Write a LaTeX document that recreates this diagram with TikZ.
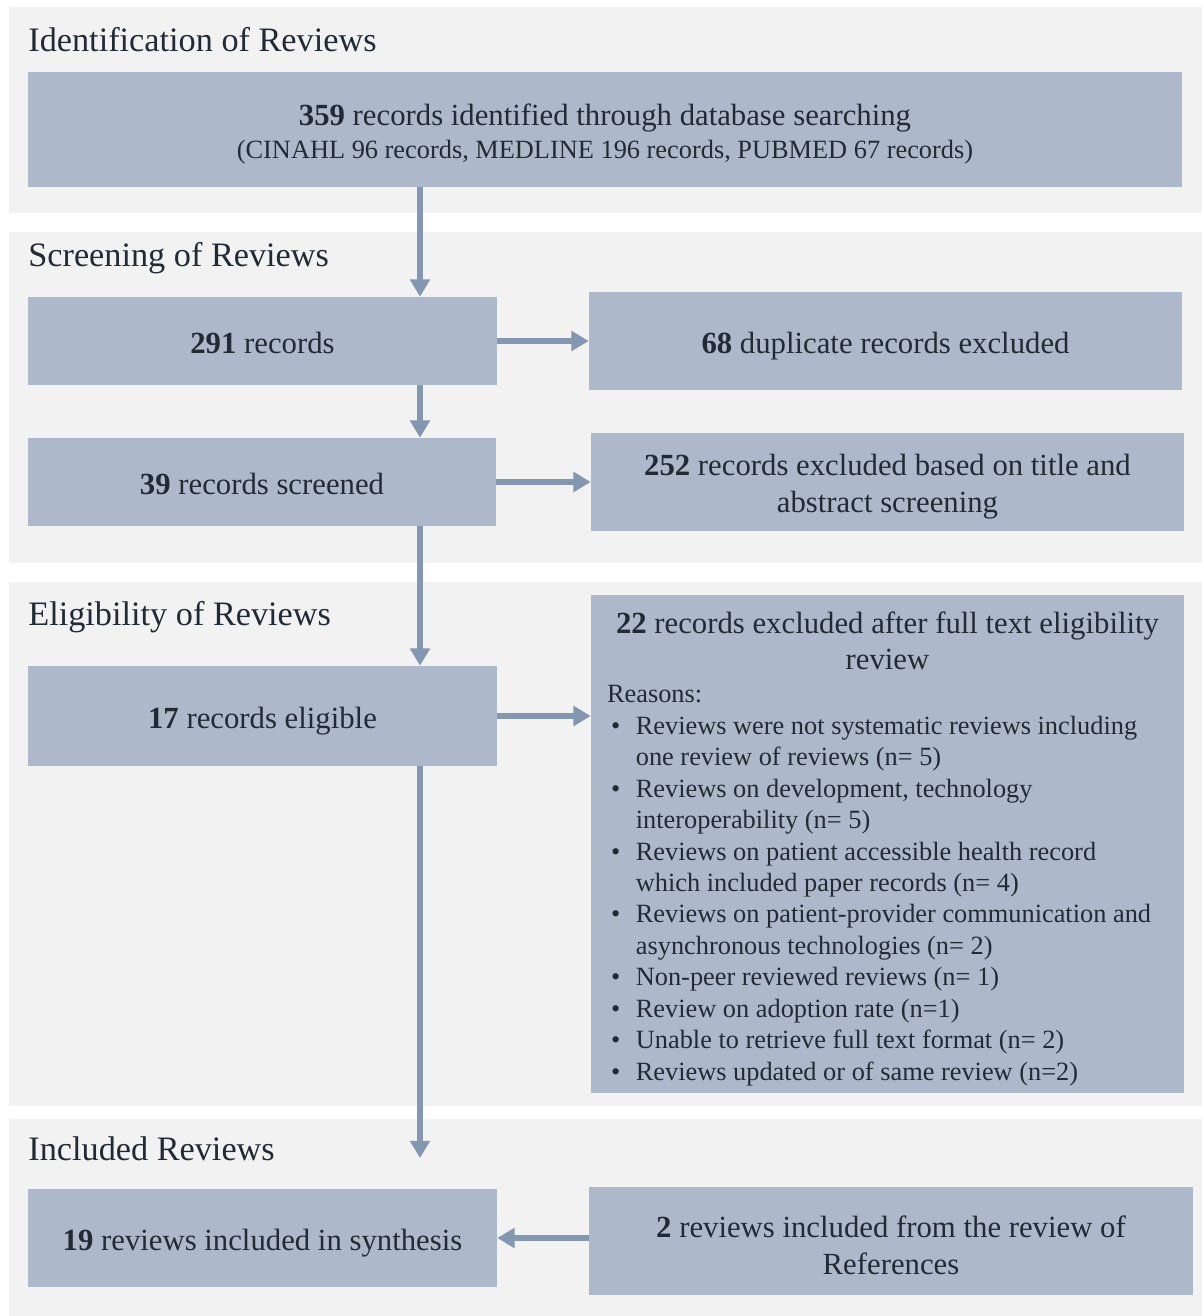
\documentclass[tikz,border=0pt]{standalone}
\usepackage{fontspec}
\setmainfont{Liberation Serif}
\usepackage{xcolor}
\usetikzlibrary{arrows.meta, positioning}

\definecolor{panelgray}{HTML}{F2F2F2}
\definecolor{boxblue}{HTML}{ADB9CA}
\definecolor{arrowblue}{HTML}{8497B0}
\definecolor{textdark}{HTML}{222A35}

\newcommand{\reasonitem}[1]{\par\hangindent=16.4pt\hangafter=1\noindent\makebox[16.4pt][l]{\hspace{2.3pt}\textbullet}#1\par}
\newcommand{\topstrut}{\rule{0pt}{1em}}

\tikzset{
    phase/.style={anchor=west, inner sep=0pt, text=textdark, font=\fontsize{19.5}{23}\selectfont},
    stage/.style={fill=boxblue, draw=none, inner sep=0pt, align=center, text=textdark, font=\fontsize{17.5}{21}\selectfont},
    oneline/.style={text height=15pt, text depth=1pt},
    flow/.style={draw=arrowblue, line width=3.5pt, -{Triangle[length=9.8pt, width=11pt]}},
}

\begin{document}
\begin{tikzpicture}[x=0.02cm, y=-0.02cm]
        \useasboundingbox[fill=white] (0,0) rectangle (1202,1316);
        \fill[panelgray] (9,7) rectangle (1202,213);
        \fill[panelgray] (9,232) rectangle (1202,563);
        \fill[panelgray] (9,582) rectangle (1202,1106);
        \fill[panelgray] (9,1119) rectangle (1202,1316);

        \node[phase] (tI) at (28,40) {Identification of Reviews};
        \node[phase] (tS) at (28,258) {Screening of Reviews};
        \node[phase] (tE) at (28,617) {Eligibility of Reviews};
        \node[phase] (tN) at (28,1149) {Included Reviews};

        \node[stage, minimum width=23.08cm, minimum height=2.3cm] (id) at (605,129.5)
            {\topstrut\textbf{359} records identified through database searching\\[-2.3pt]
             {\fontsize{15}{19}\selectfont (CINAHL 96 records, MEDLINE 196 records, PUBMED 67 records)}};
        \node[stage, oneline, minimum width=9.38cm, minimum height=1.76cm] (rec) at (262.5,341) {\textbf{291} records};
        \node[stage, oneline, minimum width=11.86cm, minimum height=1.96cm] (dup) at (885.5,341) {\textbf{68} duplicate records excluded};
        \node[stage, oneline, minimum width=9.36cm, minimum height=1.76cm] (scr) at (262,482) {\textbf{39} records screened};
        \node[stage, minimum width=11.86cm, minimum height=1.96cm] (exTA) at (887.5,482)
            {\topstrut\textbf{252} records excluded based on title and\\ abstract screening};
        \node[stage, oneline, minimum width=9.38cm, minimum height=2cm] (elig) at (262.5,716) {\textbf{17} records eligible};
        \node[stage, minimum width=11.86cm, minimum height=9.96cm, inner xsep=0.32cm, text width=11.22cm, align=flush left] (exFT) at (887.5,844)
            {{\centering\topstrut\textbf{22} records excluded after full text eligibility\\ review\par}
             \vspace{0.8pt}
             {\fontsize{15}{17.9}\selectfont Reasons:
             \reasonitem{Reviews were not systematic reviews including\newline one review of reviews (n= 5)}
             \reasonitem{Reviews on development, technology\newline interoperability (n= 5)}
             \reasonitem{Reviews on patient accessible health record\newline which included paper records (n= 4)}
             \reasonitem{Reviews on patient-provider communication and\newline asynchronous technologies (n= 2)}
             \reasonitem{Non-peer reviewed reviews (n= 1)}
             \reasonitem{Review on adoption rate (n=1)}
             \reasonitem{Unable to retrieve full text format (n= 2)}
             \reasonitem{Reviews updated or of same review (n=2)}}};
        \node[stage, oneline, minimum width=9.38cm, minimum height=1.96cm] (inc) at (262.5,1238) {\textbf{19} reviews included in synthesis};
        \node[stage, minimum width=12.08cm, minimum height=2.16cm] (ref) at (891,1241)
            {\topstrut\textbf{2} reviews included from the review of\\ References};

        \coordinate (spine) at (420,0);
        \coordinate (end) at (420,1158);
        \draw[flow] (id.south -| spine) -- (rec.north -| spine);
        \draw[flow] (rec.south -| spine) -- (scr.north -| spine);
        \draw[flow] (scr.south -| spine) -- (elig.north -| spine);
        \draw[flow] (elig.south -| spine) -- (end);
        \draw[flow] (rec.east) -- (dup.west);
        \draw[flow] (scr.east) -- (exTA.west);
        \draw[flow] (elig.east) -- (exFT.west |- elig.east);
        \draw[flow] (ref.west |- inc.east) -- (inc.east);
\end{tikzpicture}
\end{document}
